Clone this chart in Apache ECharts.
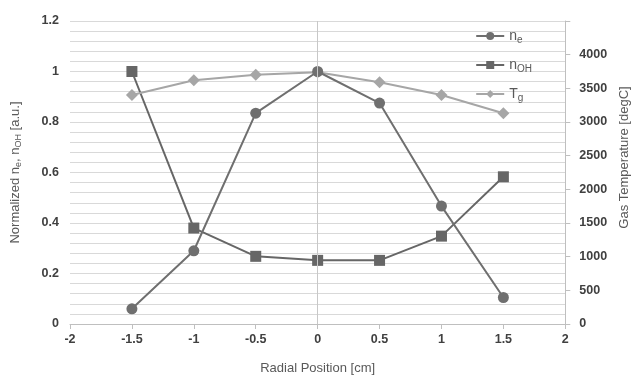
<!DOCTYPE html>
<html>
<head>
<meta charset="utf-8">
<script src="https://cdn.jsdelivr.net/npm/echarts@6/dist/echarts.min.js"></script>
<style>
  html, body { margin: 0; padding: 0; background: #fff; }
  #chart { width: 639px; height: 381px; }
</style>
</head>
<body>
<div id="chart"></div>
<script>
    // data
    var positions = [-1.5, -1, -0.5, 0, 0.5, 1, 1.5];
    var neValues = [0.06, 0.29, 0.835, 1.0, 0.875, 0.467, 0.105];
    var nohValues = [1.0, 0.38, 0.268, 0.252, 0.252, 0.348, 0.583];
    var tgValues = [3400, 3620, 3700, 3740, 3590, 3400, 3130];

    function pairs(vals) {
        return positions.map(function (x, i) { return [x, vals[i]]; });
    }

    var myChart = echarts.init(document.getElementById("chart"));

    var labelStyle = {
        fontFamily: 'Liberation Sans',
        fontWeight: 'bold',
        fontSize: 12.5,
        color: '#404040'
    };

    var option = {
        animation: false,
        textStyle: { fontFamily: 'Liberation Sans' },
        grid: {
            left: 70,
            right: 72,
            top: 21,
            bottom: 57
        },
        legend: {
            right: 102,
            top: 24,
            orient: 'vertical',
            itemWidth: 28,
            itemHeight: 10,
            itemGap: 13,
            data: ['ne', 'nOH', 'Tg'],
            formatter: function (name) {
                if (name === 'ne') return 'n{sub|e}';
                if (name === 'nOH') return 'n{sub|OH}';
                return 'T{sub|g}';
            },
            textStyle: {
                fontSize: 14,
                color: '#595959',
                rich: {
                    sub: { fontSize: 10, color: '#595959', padding: [8, 0, 0, 0] }
                }
            }
        },
        xAxis: {
            type: 'value',
            min: -2,
            max: 2,
            interval: 0.5,
            name: 'Radial Position [cm]',
            nameLocation: 'middle',
            nameGap: 38,
            nameTextStyle: { fontSize: 13, color: '#595959' },
            axisLine: { onZero: false, lineStyle: { color: '#bfbfbf' } },
            axisTick: { show: true, length: 5, lineStyle: { color: '#bfbfbf' } },
            axisLabel: Object.assign({ margin: 9 }, labelStyle),
            splitLine: { show: false }
        },
        yAxis: [
            {
                type: 'value',
                min: 0,
                max: 1.2,
                interval: 0.2,
                name: 'Normalized n{sub|e}, n{sub|OH} [a.u.]',
                nameLocation: 'middle',
                nameGap: 47,
                nameTextStyle: {
                    fontSize: 13,
                    color: '#595959',
                    rich: { sub: { fontSize: 9, color: '#595959', padding: [7, 0, 0, 0] } }
                },
                axisLine: { show: false },
                axisTick: { show: false },
                axisLabel: Object.assign({ margin: 11 }, labelStyle),
                splitLine: { lineStyle: { color: '#d9d9d9' } },
                minorTick: { show: false, splitNumber: 5 },
                minorSplitLine: { show: true, lineStyle: { color: '#d9d9d9' } }
            },
            {
                type: 'value',
                min: 0,
                max: 4500,
                interval: 500,
                position: 'right',
                name: 'Gas Temperature [degC]',
                nameLocation: 'middle',
                nameGap: 52,
                nameTextStyle: { fontSize: 13, color: '#595959', padding: [0, 0, 0, 30] },
                axisLine: { show: true, lineStyle: { color: '#bfbfbf' } },
                axisTick: { show: true, length: 5, lineStyle: { color: '#bfbfbf' } },
                axisLabel: Object.assign({
                    margin: 14,
                    formatter: function (v) { return v === 4500 ? '' : String(v); }
                }, labelStyle),
                splitLine: { show: false }
            }
        ],
        series: [
            {
                name: 'ne',
                type: 'line',
                yAxisIndex: 0,
                data: pairs(neValues),
                symbol: 'circle',
                symbolSize: 11,
                lineStyle: { color: '#6f6f6f', width: 2 },
                itemStyle: { color: '#6f6f6f' },
                z: 3,
                markLine: {
                    silent: true,
                    symbol: 'none',
                    label: { show: false },
                    lineStyle: { color: '#c8c8c8', type: 'solid', width: 1 },
                    data: [{ xAxis: 0 }]
                }
            },
            {
                name: 'nOH',
                type: 'line',
                yAxisIndex: 0,
                data: pairs(nohValues),
                symbol: 'rect',
                symbolSize: 11,
                lineStyle: { color: '#666666', width: 2 },
                itemStyle: { color: '#666666' },
                z: 2
            },
            {
                name: 'Tg',
                type: 'line',
                yAxisIndex: 1,
                data: pairs(tgValues),
                symbol: 'diamond',
                symbolSize: 12,
                lineStyle: { color: '#a6a6a6', width: 2 },
                itemStyle: { color: '#a6a6a6' },
                z: 2
            }
        ]
    };

    myChart.setOption(option);
    window.addEventListener("resize", function () {
        myChart.resize();
    });
</script>
</body>
</html>
